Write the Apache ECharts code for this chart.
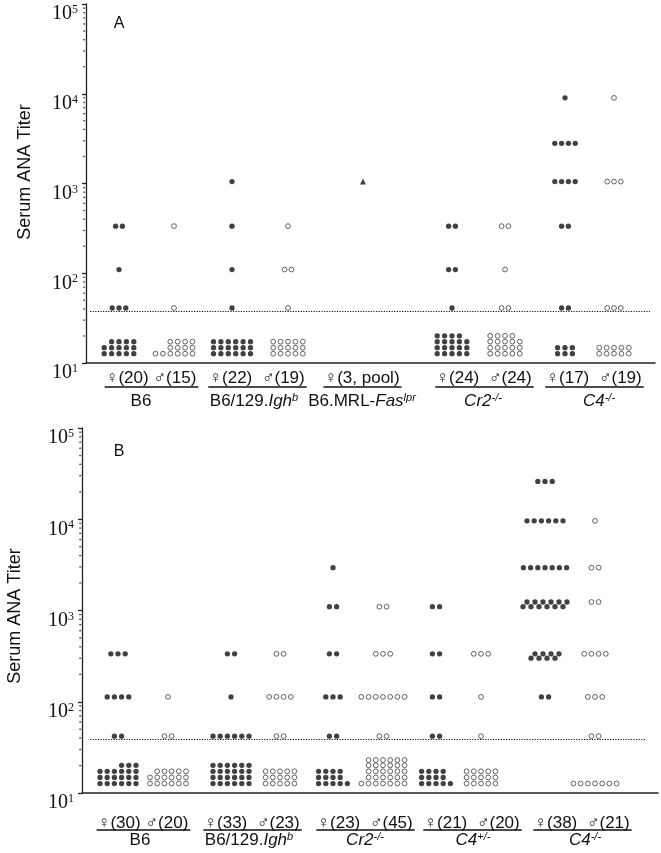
<!DOCTYPE html>
<html><head><meta charset="utf-8">
<script src="https://cdn.jsdelivr.net/npm/echarts@6/dist/echarts.min.js"></script>
<style>html,body{margin:0;padding:0;background:#fff}#c{width:661px;height:853px}</style>
</head><body><div id="c"></div>
<script>
// ================= DATA =================
// display rows used for titers below the 1:40 cut-off (negatives), bottom to top
const negLevels = [12.7, 14.8, 17.3, 20.1, 23.0];

// ---- Panel A ----
const titerLevelsA = [41, 110, 335, 1050, 2800, 9000];
const groupsA = ['B6 F','B6 M','B6/129.Igh F','B6/129.Igh M','B6.MRL-Fas pool','Cr2 F','Cr2 M','C4 F','C4 M'];
const sexA = ['f','m','f','m','pool','f','m','f','m'];
const negCountsA = [[5,5,4],[6,4,4],[6,6,6],[5,5,5],[],[5,5,5,4],[5,5,5,4],[3,3],[5,5]];
const posCountsA = [
  [3,1,2,0,0,0],
  [1,0,1,0,0,0],
  [1,1,1,1,0,0],
  [1,2,1,0,0,0],
  [0,0,0,1,0,0],
  [1,2,2,0,0,0],
  [2,1,2,0,0,0],
  [2,0,2,4,4,1],
  [3,0,0,3,0,1]
];
const thresholdA = 38;
const pairLabelsA = ['♀(20) ♂(15)', '♀(22)  ♂(19)', '♀(3, pool)', '♀(24)  ♂(24)', '♀(17)  ♂(19)'];
const strainNamesA = ['B6', 'B6/129.{i|Igh}{s|b}', 'B6.MRL-{i|Fas}{s|lpr}', '{i|Cr2}{s|-/-}', '{i|C4}{s|-/-}'];

// ---- Panel B ----
const titerLevelsB = [42, 113, 300, 335, 1100, 1240, 2950, 9600, 26000];
const groupsB = ['B6 F','B6 M','B6/129.Igh F','B6/129.Igh M','Cr2 F','Cr2 M','C4+/- F','C4+/- M','C4-/- F','C4-/- M'];
const sexB = ['f','m','f','m','f','m','f','m','f','m'];
const negCountsB = [[6,6,6,3],[6,6,5],[6,6,6,6],[5,5,5],[5,4,4],[7,6,6,6,6],[5,4,4],[5,5,5],[],[7]];
const posCountsB = [
  [2,4,0,3,0,0,0,0,0],
  [2,1,0,0,0,0,0,0,0],
  [6,1,0,2,0,0,0,0,0],
  [2,4,0,2,0,0,0,0,0],
  [2,3,0,2,2,0,1,0,0],
  [2,7,0,3,2,0,0,0,0],
  [2,2,0,2,2,0,0,0,0],
  [1,1,0,3,0,0,0,0,0],
  [0,2,4,4,6,6,7,6,3],
  [2,3,0,4,0,2,2,1,0]
];
const thresholdB = 39;
const pairLabelsB = ['♀(30) ♂(20)', '♀(33)  ♂(23)', '♀(23)  ♂(45)', '♀(21)  ♂(20)', '♀(38)  ♂(21)'];
const strainNamesB = ['B6', 'B6/129.{i|Igh}{s|b}', '{i|Cr2}{s|-/-}', '{i|C4}{s|+/-}', '{i|C4}{s|-/-}'];

// ================= LAYOUT =================
const layoutA = {
  grid:{left:86, top:4, width:569, height:359}, xMin:86, xMax:655,
  groupX:[119,174,232,288,363,452,505,565,614],
  pairX:[151,257,362,484,594], nameX:[141,254,362,483,599],
  step:6.8, negStep:7.4, staggerStep:4,
  negAlign:['r','r','c','c','c','l','l','c','c'], stagger:{},
  thrX:[90,650], pairDy:15, lineDy:24, nameDy:38,
  titleXY:[25,172], letter:'A', letterXY:[119,24]
};
const layoutB = {
  grid:{left:82, top:428, width:576, height:365}, xMin:82, xMax:658,
  groupX:[118,168,231,280,333,383,436,481,545,595],
  pairX:[143,252,365,472,582], nameX:[140,249,365,473,585],
  step:7.2, negStep:7.2, staggerStep:4,
  negAlign:['r','r','c','c','l','r','l','c','c','c'], stagger:{8:[[2,3],[4,5]]},
  thrX:[90,645], pairDy:30, lineDy:37, nameDy:47,
  titleXY:[15,616], letter:'B', letterXY:[119,452]
};

// ================= BUILD =================
function rowXs(c, n, step, W, align){
  const xs=[];
  for(let i=0;i<n;i++){
    let k;
    if(align==='l') k = i - (W-1)/2;
    else if(align==='r') k = i + (W-n) - (W-1)/2;
    else k = i - (n-1)/2;
    xs.push(c + k*step);
  }
  return xs;
}
function panelPoints(L, sex, negCounts, posCounts, levels){
  const out={f:[], m:[], pool:[]};
  L.groupX.forEach((c,g)=>{
    const bucket = out[sex[g]];
    const neg = negCounts[g];
    const W = neg.length ? Math.max(...neg) : 0;
    neg.forEach((n,r)=> rowXs(c,n,L.negStep,W,L.negAlign[g]).forEach(x=>bucket.push([x, negLevels[r]])));
    const skip = new Set();
    (L.stagger[g]||[]).forEach(([lo,hi])=>{
      const nl=posCounts[g][lo], nh=posCounts[g][hi], tot=nl+nh;
      let a=0;
      for(let j=0;j<tot;j++){
        const x=c+(j-(tot-1)/2)*L.staggerStep;
        if(j%2===0 && a<nl){bucket.push([x,levels[lo]]);a++;} else bucket.push([x,levels[hi]]);
      }
      skip.add(lo); skip.add(hi);
    });
    posCounts[g].forEach((n,l)=>{
      if(skip.has(l)||!n) return;
      rowXs(c,n,L.step,n,'c').forEach(x=>bucket.push([x,levels[l]]));
    });
  });
  return out;
}
const ptsA = panelPoints(layoutA, sexA, negCountsA, posCountsA, titerLevelsA);
const ptsB = panelPoints(layoutB, sexB, negCountsB, posCountsB, titerLevelsB);

const minorVals=[];
for(let k=1;k<5;k++) for(let m=2;m<10;m++) minorVals.push(m*Math.pow(10,k));

const SERIF='"Liberation Serif", "Times New Roman", serif';
const SANS='"Liberation Sans", Arial, "DejaVu Sans", sans-serif';

function xAxisCfg(i,L){
  return {gridIndex:i, type:'value', min:L.xMin, max:L.xMax,
    axisLine:{show:true,onZero:false,lineStyle:{color:'#222',width:1.5}},
    axisTick:{show:false}, axisLabel:{show:false}, splitLine:{show:false}};
}
function yAxisCfg(i){
  return {gridIndex:i, type:'log', logBase:10, min:10, max:100000,
    axisLine:{show:true,lineStyle:{color:'#222',width:1.3}},
    axisTick:{show:true,length:4,inside:false,lineStyle:{color:'#222',width:1.3}},
    axisLabel:{margin:8, verticalAlign:'top',
      formatter:v=>'{b|10}{s|'+Math.round(Math.log10(v))+'}',
      rich:{b:{fontFamily:SERIF,fontSize:20,lineHeight:20,color:'#111'},
            s:{fontFamily:SERIF,fontSize:12,lineHeight:12,color:'#111',verticalAlign:'top'}}},
    splitLine:{show:false}, minorTick:{show:false}};
}
function seriesFor(i,L,pts,thr){
  const base={type:'scatter', xAxisIndex:i, yAxisIndex:i, silent:true, clip:false, emphasis:{disabled:true}};
  return [
    Object.assign({}, base, {data:pts.f, symbol:'circle', symbolSize:5.3, itemStyle:{color:'#111'},
      markLine:{silent:true, symbol:'none', label:{show:false}, animation:false,
        lineStyle:{type:[1.2,1.4], color:'#111', width:1.1},
        data:[[{coord:[L.thrX[0],thr]},{coord:[L.thrX[1],thr]}]]}}),
    Object.assign({}, base, {data:pts.m, symbol:'circle', symbolSize:4.8,
      itemStyle:{color:'#fff', borderColor:'#333', borderWidth:0.95}}),
    Object.assign({}, base, {data:pts.pool, symbol:'triangle', symbolSize:6, itemStyle:{color:'#111'}}),
    Object.assign({}, base, {data:minorVals.map(v=>[L.xMin,v]), symbol:'rect', symbolSize:[2,1.3],
      symbolOffset:[-1.8,0], itemStyle:{color:'#222'}})
  ];
}

const chart = echarts.init(document.getElementById('c'), null, {renderer:'canvas'});
chart.setOption({
  animation:false, backgroundColor:'#fff',
  grid:[layoutA.grid, layoutB.grid],
  xAxis:[xAxisCfg(0,layoutA), xAxisCfg(1,layoutB)],
  yAxis:[yAxisCfg(0), yAxisCfg(1)],
  series:[...seriesFor(0,layoutA,ptsA,thresholdA), ...seriesFor(1,layoutB,ptsB,thresholdB)]
});

// ----- labels under the axes -----
const mctx=document.createElement('canvas').getContext('2d');
function textW(str,font){ mctx.font=font; return mctx.measureText(str).width; }
const graphics=[];
function addPanelText(i,L,pairs,names){
  const yBottom = chart.convertToPixel({yAxisIndex:i}, 10);
  pairs.forEach((t,k)=>{
    const cx = chart.convertToPixel({xAxisIndex:i}, L.pairX[k]);
    const nx = chart.convertToPixel({xAxisIndex:i}, L.nameX[k]);
    const w = textW(t, '17px '+SANS);
    graphics.push({type:'text', silent:true, style:{text:t, x:cx, y:yBottom+L.pairDy, align:'center', verticalAlign:'middle',
      fontSize:17, fontFamily:SANS, fill:'#111'}});
    graphics.push({type:'line', silent:true, shape:{x1:cx-w/2-1, y1:yBottom+L.lineDy, x2:cx+w/2+2, y2:yBottom+L.lineDy},
      style:{stroke:'#111', lineWidth:1.3}});
    graphics.push({type:'text', silent:true, style:{text:names[k], x:nx, y:yBottom+L.nameDy, align:'center', verticalAlign:'middle',
      fontSize:17, fontFamily:SANS, fill:'#111',
      rich:{i:{fontSize:17,fontFamily:SANS,fontStyle:'italic',fill:'#111'},
            s:{fontSize:11,fontFamily:SANS,fontStyle:'italic',fill:'#111',verticalAlign:'top'}}}});
  });
  graphics.push({type:'text', silent:true, x:L.titleXY[0], y:L.titleXY[1], rotation:Math.PI/2,
    style:{text:'Serum ANA Titer', x:0, y:0, align:'center', verticalAlign:'middle', fontSize:18, fontFamily:SANS, fill:'#111'}});
  graphics.push({type:'text', silent:true, style:{text:L.letter, x:L.letterXY[0], y:L.letterXY[1], align:'center', verticalAlign:'middle',
    fontSize:16, fontFamily:SANS, fill:'#111'}});
}
addPanelText(0,layoutA,pairLabelsA,strainNamesA);
addPanelText(1,layoutB,pairLabelsB,strainNamesB);
chart.setOption({graphic:graphics});
</script>
</body></html>
